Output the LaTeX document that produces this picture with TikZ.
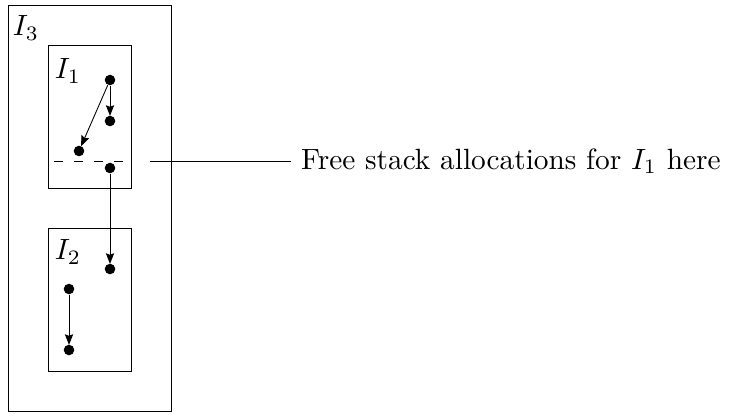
\documentclass[tikz,border=0pt]{standalone}
\usetikzlibrary{arrows.meta}
\begin{document}
\begin{tikzpicture}[x=0.341pt,y=-0.341pt, line width=0.3pt,
  regionbox/.style={draw},
  dot/.style={circle, fill, inner sep=0pt, minimum size=3.6pt},
  ptr/.style={-{Stealth[length=3.6pt,width=2.8pt,inset=0.5pt]}, shorten >=-0.2pt},
  lbl/.style={inner sep=0pt}]
\useasboundingbox (0,0) rectangle (732,413);

% nested regions
\draw[regionbox] (8,5) rectangle (171,411);
\draw[regionbox] (48,45) rectangle (131,188);
\draw[regionbox] (48,228) rectangle (131,371);

\node[lbl] at (26,28) {$I_3$};
\node[lbl] at (68,71) {$I_1$};
\node[lbl] at (68,252) {$I_2$};

% allocations in I1
\node[dot] (a) at (110,80) {};
\node[dot] (b) at (110,121) {};
\node[dot] (c) at (79,151) {};
\node[dot] (d) at (110,168) {};

% allocations in I2
\node[dot] (e) at (110,269) {};
\node[dot] (f) at (69,289) {};
\node[dot] (g) at (69,350) {};

\draw[ptr] (a) -- (b);
\draw[ptr] (a) -- (c);
\draw[ptr] (d) -- (e);
\draw[ptr] (f) -- (g);

% point where I1's stack allocations are released
\coordinate (cutL) at (54,161);
\coordinate (cutR) at (125,161);
\draw[dash pattern=on 3.2pt off 3.6pt] (cutL) -- (cutR);

\coordinate (lead) at (150,161);
\node[anchor=west, inner sep=3.3pt] (note) at (291,161) {Free stack allocations for $I_1$ here};
\draw (lead) -- (note.west);
\end{tikzpicture}
\end{document}
